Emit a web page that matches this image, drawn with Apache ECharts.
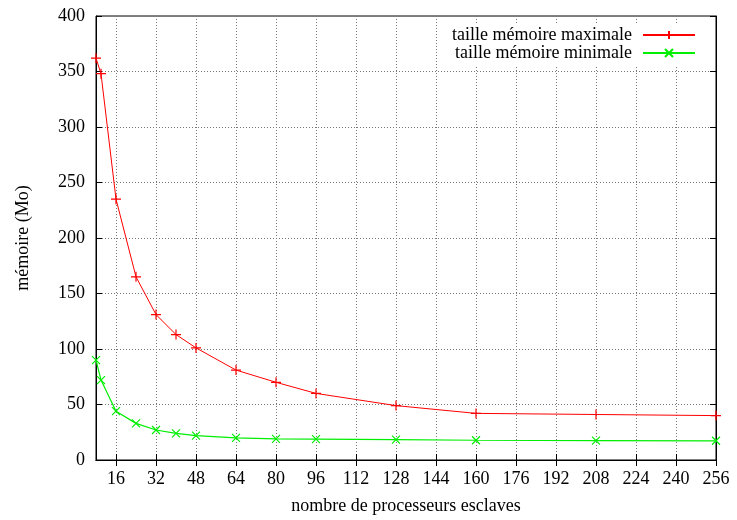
<!DOCTYPE html>
<html>
<head>
<meta charset="utf-8">
<script src="https://cdn.jsdelivr.net/npm/echarts@6/dist/echarts.min.js"></script>
<style>
  html, body { margin: 0; padding: 0; background: #fff; }
  #memChart { width: 737px; height: 520px; }
</style>
</head>
<body>
<div id="memChart"></div>
<script>
// nombre de processeurs esclaves
var nbProc = [8, 10, 16, 24, 32, 40, 48, 64, 80, 96, 128, 160, 208, 256];
// taille mémoire (Mo)
var memMax = [362, 348, 235, 165, 131, 113, 101, 81, 70, 60, 49, 42, 41, 40];
var memMin = [90, 72, 44, 33, 27, 24, 22, 20, 19, 18.8, 18.3, 17.8, 17.5, 17.3];
var xTicks = [16, 32, 48, 64, 80, 96, 112, 128, 144, 160, 176, 192, 208, 224, 240, 256];

var font = 'Liberation Serif';
var plusPath = 'path://M0,5L10,5M5,0L5,10';
var crossPath = 'path://M0,0L10,10M10,0L0,10';

function pairs(xs, ys) {
    return xs.map(function (x, i) { return [x, ys[i]]; });
}

var chart = echarts.init(document.getElementById('memChart'));

var gridLine = { show: true, lineStyle: { color: '#777', type: [1, 2], width: 1 } };

var option = {
    backgroundColor: '#fff',
    animation: false,
    textStyle: { fontFamily: font },
    grid: {
        left: 96, right: 21, top: 16, bottom: 59,
        show: true, borderColor: '#000', borderWidth: 1
    },
    legend: {
        orient: 'vertical',
        right: 39, top: 23,
        align: 'right',
        itemGap: 0,
        itemWidth: 52, itemHeight: 10,
        backgroundColor: '#fff',
        padding: [3, 2, 3, 6],
        textStyle: { fontFamily: font, fontSize: 18, lineHeight: 18, color: '#000', padding: [0, 6, 0, 0] },
        data: ['taille mémoire maximale', 'taille mémoire minimale']
    },
    xAxis: [{
        type: 'value',
        min: 8, max: 256,
        name: 'nombre de processeurs esclaves',
        nameLocation: 'middle',
        nameGap: 37,
        nameTextStyle: { fontFamily: font, fontSize: 18, color: '#000' },
        axisLine: { show: true, lineStyle: { color: '#000' } },
        axisTick: { inside: true, length: 6, lineStyle: { color: '#000' }, customValues: xTicks },
        axisLabel: { fontFamily: font, fontSize: 18, color: '#000', margin: 10, customValues: xTicks },
        splitLine: gridLine
    }, {
        type: 'value',
        position: 'top',
        min: 8, max: 256,
        axisLine: { show: true, lineStyle: { color: '#000' } },
        axisTick: { inside: true, length: 6, lineStyle: { color: '#000' }, customValues: xTicks },
        axisLabel: { show: false },
        splitLine: { show: false }
    }],
    yAxis: [{
        type: 'value',
        min: 0, max: 400, interval: 50,
        name: 'mémoire (Mo)',
        nameLocation: 'middle',
        nameGap: 64,
        nameTextStyle: { fontFamily: font, fontSize: 18, color: '#000' },
        axisLine: { show: true, lineStyle: { color: '#000' } },
        axisTick: { show: true, inside: true, length: 6, lineStyle: { color: '#000' } },
        axisLabel: { fontFamily: font, fontSize: 18, color: '#000', margin: 11 },
        splitLine: gridLine
    }, {
        type: 'value',
        position: 'right',
        min: 0, max: 400, interval: 50,
        axisLine: { show: true, lineStyle: { color: '#000' } },
        axisTick: { show: true, inside: true, length: 6, lineStyle: { color: '#000' } },
        axisLabel: { show: false },
        splitLine: { show: false }
    }],
    series: [{
        name: 'taille mémoire maximale',
        type: 'line',
        data: pairs(nbProc, memMax),
        symbol: plusPath,
        symbolSize: 10,
        showAllSymbol: true,
        lineStyle: { color: '#ff0000', width: 1 },
        itemStyle: { color: '#ff0000', borderColor: '#ff0000', borderWidth: 1.2 },
        emphasis: { disabled: true }
    }, {
        name: 'taille mémoire minimale',
        type: 'line',
        data: pairs(nbProc, memMin),
        symbol: crossPath,
        symbolSize: 8,
        showAllSymbol: true,
        lineStyle: { color: '#00ee00', width: 1.2 },
        itemStyle: { color: '#00ee00', borderColor: '#00ee00', borderWidth: 1.2 },
        emphasis: { disabled: true }
    }]
};

chart.setOption(option);
</script>
</body>
</html>
